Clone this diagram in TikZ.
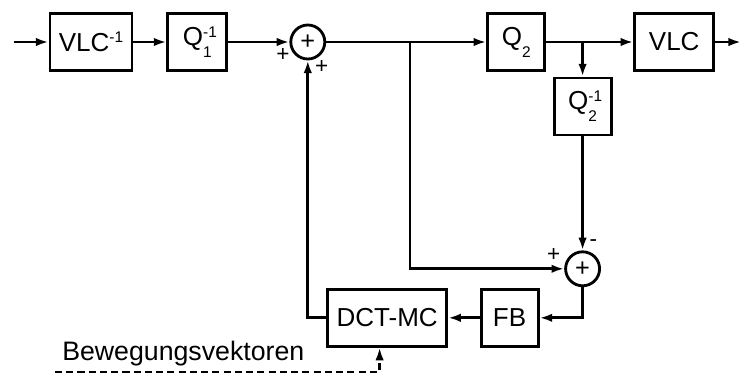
\documentclass[tikz,border=0pt]{standalone}
\usepackage{fontspec}
\setmainfont{Liberation Sans}
\usetikzlibrary{shapes,arrows,arrows.meta,positioning}
\newcommand{\scr}{\fontsize{11}{12}\selectfont}
\newcommand{\inv}[1]{Q\rlap{\raisebox{6pt}{\scr -1}}\raisebox{-8.5pt}{\scr #1}}
\tikzstyle{block} = [rectangle, draw, line width=2pt, minimum width=1.425cm, minimum height=1.425cm, inner sep=0pt, font=\fontsize{18.5}{21}\selectfont, on grid]
\tikzstyle{sum} = [circle, draw, line width=2pt, minimum size=0.85cm, inner sep=0pt, font=\fontsize{18}{21}\selectfont, on grid]
\tikzstyle{sign} = [inner sep=0pt, font=\fontsize{16}{18}\selectfont]
\tikzstyle{line} = [draw, -{Latex[length=9pt,width=6pt]}, line width=2pt]

\begin{document}
\begin{tikzpicture}[node distance = 2cm, auto]
        \useasboundingbox (0,0) rectangle (18.5,-9.4);
        \node[block, minimum width=2.05cm] (vlcinv) at (2.275,-1.05) {VLC\raisebox{6pt}{\scr -1}};
        \node[block, minimum width=1.475cm, right=2.66cm of vlcinv]      (qinv1) {\inv{1}};
        \node[sum, right=2.76cm of qinv1]                  (sum1) {+};
        \node[block, right=5.21cm of sum1]                 (q2) {Q\raisebox{-8.5pt}{\scr 2}};
        \node[block, minimum width=1.975cm, right=3.95cm of q2] (vlc) {VLC};
        \node[block, below right=1.61cm and 1.66cm of q2]  (qinv2) {\inv{2}};
        \node[sum, below=4.06cm of qinv2]                  (sum2) {+};
        \node[block, below left=1.225cm and 1.825cm of sum2] (fb) {FB};
        \node[block, minimum width=2.975cm, left=3.06cm of fb] (dct) {DCT-MC};

        \node[sign] (p1) at ([xshift=-0.62cm, yshift=-0.33cm]sum1) {+};
        \node[sign] (p2) at ([xshift=0.35cm, yshift=-0.62cm]sum1) {+};
        \node[sign] (p3) at ([xshift=-0.72cm, yshift=0.35cm]sum2) {+};
        \node[sign] (m1) at ([xshift=0.27cm, yshift=0.65cm]sum2) {-};
        \node[anchor=base west, inner sep=0pt, font=\fontsize{19}{21}\selectfont] (bvtext) at (1.55,-9.0) {Bewegungsvektoren};

        \coordinate (in)  at ([xshift=-0.875cm]vlcinv.west);
        \coordinate (out) at ([xshift=0.65cm]vlc.east);
        \coordinate (br1) at (10.25,-1.05);
        \coordinate (br2) at (q2.east -| qinv2.north);
        \coordinate (bv)  at (1.375,-9.3);

        \path[line] (in)     --          (vlcinv);
        \path[line] (vlcinv) --          (qinv1);
        \path[line] (qinv1)  --          (sum1);
        \path[line] (sum1)   --          (q2);
        \path[line] (q2)     --          (vlc);
        \path[line] (vlc)    --          (out);
        \path[line] (br2)    --          (qinv2);
        \path[line] (qinv2)  --          (sum2);
        \path[line] (br1)    |-          (sum2);
        \path[line] (sum2)   |-          (fb);
        \path[line] (fb)     --          (dct);
        \path[line] (dct)    -|          (sum1);
        \path[line, line width=1.6pt, dash pattern=on 5pt off 3pt] (bv) -| ([xshift=-0.19cm]dct.south);
      \end{tikzpicture}
\end{document}
